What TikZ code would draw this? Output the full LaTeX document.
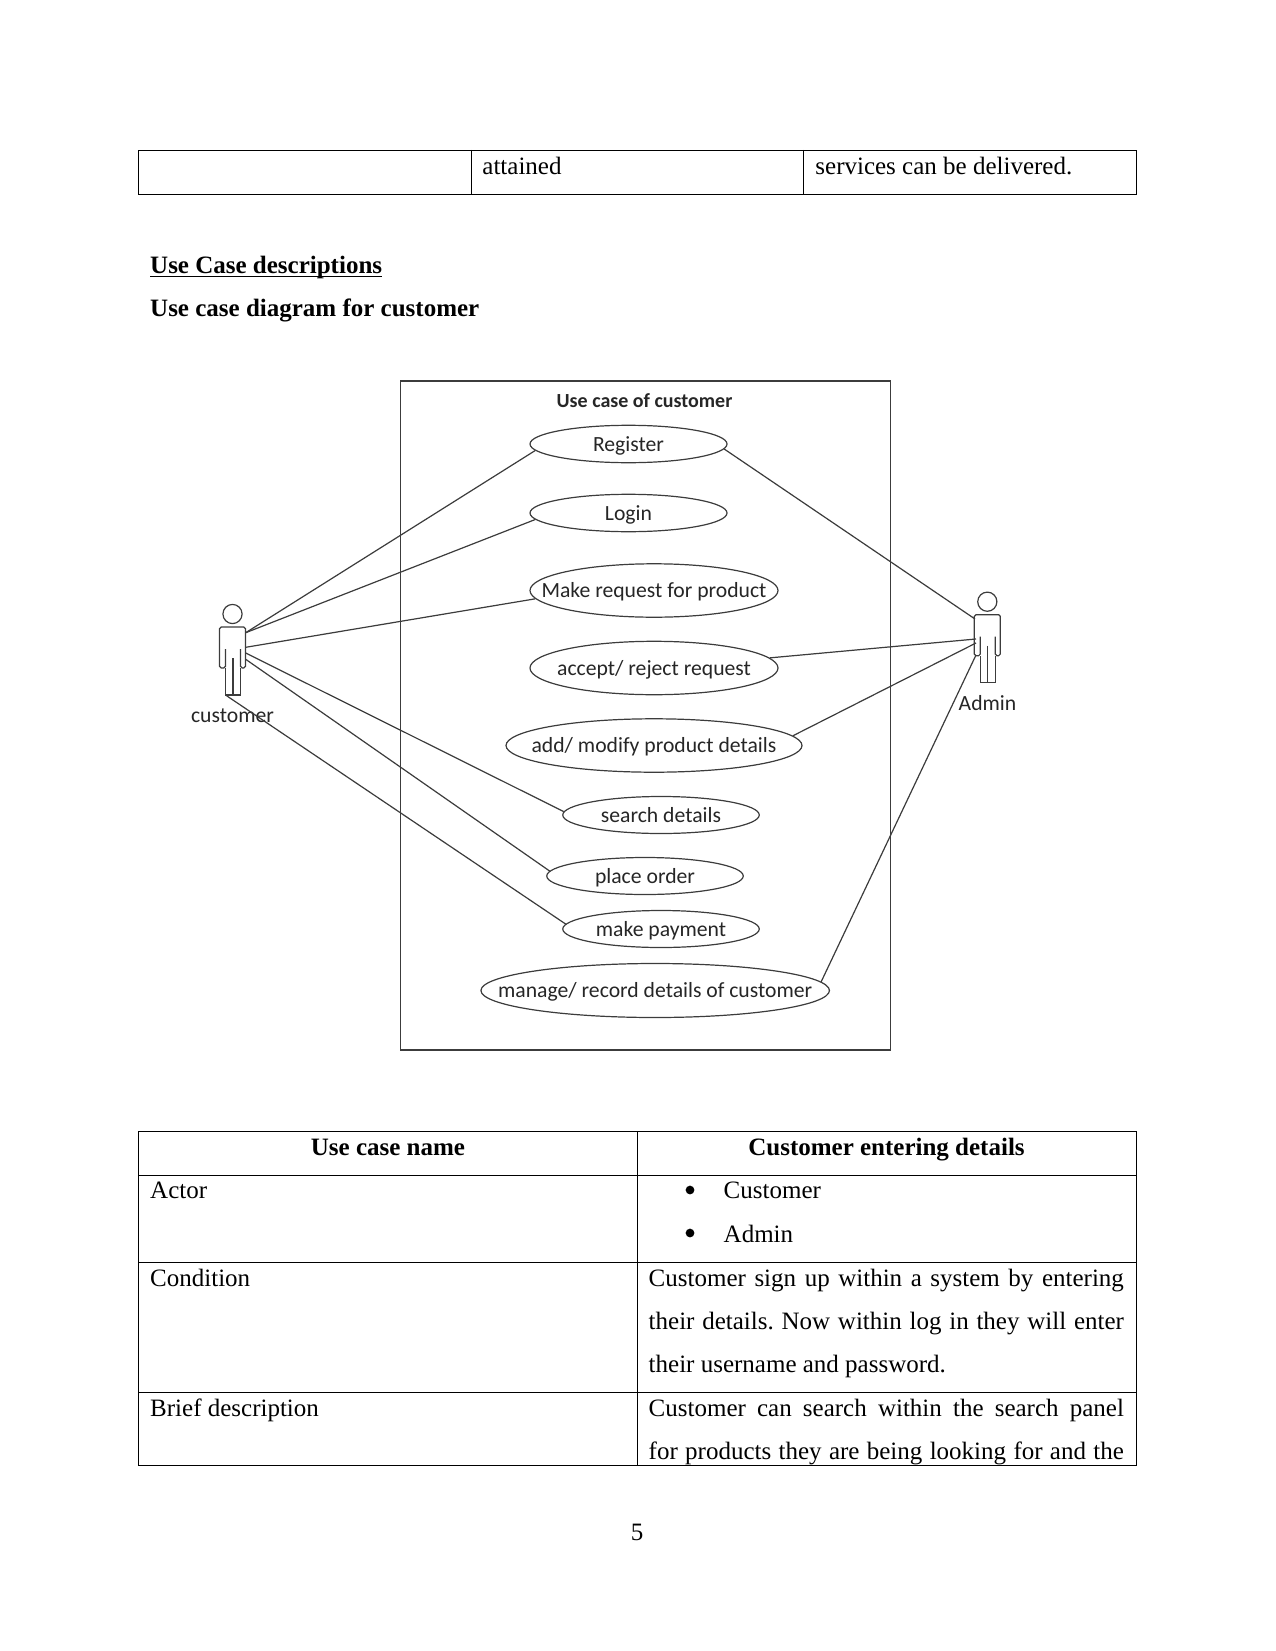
\documentclass[tikz,border=0pt]{standalone}
\usepackage{fontspec}
\setmainfont{Liberation Serif}
\newfontfamily\ucfont{Carlito}
\usetikzlibrary{shapes.geometric}
\definecolor{ucline}{HTML}{3C3C3C}
\newcommand{\jline}[1]{\makebox[228.1pt][s]{\frenchspacing #1}}
\tikzset{
	txt/.style={anchor=base west,inner sep=0pt,font=\fontsize{12}{14}\selectfont},
	ctxt/.style={anchor=base,inner sep=0pt,font=\fontsize{12}{14}\selectfont},
	btxt/.style={anchor=base,inner sep=0pt,font=\fontsize{12}{14}\selectfont\bfseries},
	bul/.style={circle,inner sep=0pt,minimum size=4.2pt,fill},
	tbl/.style={line width=.36pt},
	ucase/.style 2 args={ellipse,draw=ucline,line width=.58pt,inner sep=0pt,minimum width=#1*.48pt,minimum height=#2*.48pt},
	uclabel/.style={inner sep=0pt,text height=9pt,text depth=2pt,text=black!85,font=\fontsize{10.4}{12}\ucfont},
	conn/.style={draw=ucline,line width=.58pt},
	pics/actor/.style={code={
		\node [circle,draw=ucline,line width=.58pt,inner sep=0pt,minimum size=9.2pt] (#1head) at (0,0) {};
		\draw [ucline,line width=.58pt,rounded corners=.8pt] (-7,35) -- (-7,54) -- (-13,54) -- (-13,13) -- (13,13) -- (13,54) -- (8,54) -- (8,35);
		\draw [ucline,line width=.58pt] (-7,54) -- (-7,81) -- (8,81) -- (8,54);
		\draw [ucline,line width=.58pt] (0.5,44) -- (0.5,81);
		\coordinate (#1foot) at (-7,81);
	}}
}
\begin{document}
\begin{tikzpicture}[x=.48pt,y=-.48pt]
	\useasboundingbox (0,0) rectangle (1275,1651);

	\draw [tbl] (138.6,150) rectangle (1136,194);
	\draw [tbl] (471,150) -- (471,194);
	\draw [tbl] (803.5,150) -- (803.5,194);
	\node [txt] (attained) at (482,175) {attained};
	\node [txt] (services) at (815,175) {services can be delivered.};

	\node [txt,font=\fontsize{12}{14}\selectfont\bfseries] (heading) at (149.8,273) {\underline{\smash{Use Case descriptions}}};
	\node [txt,font=\fontsize{12}{14}\selectfont\bfseries] (subheading) at (149.8,316) {Use case diagram for customer};

	\node [draw=ucline,line width=.58pt,inner sep=0pt,minimum width=490*.48pt,minimum height=669*.48pt] (system) at (645.3,715.5) {};
	\node [uclabel,font=\fontsize{9.6}{11}\ucfont\bfseries] (title) at (644.5,400.4) {Use case of customer};

	\node [ucase={197}{37.4}] (register) at (628.5,444) {};
	\node [uclabel] at (register) {Register};
	\node [ucase={197}{37.4}] (login) at (628.5,513) {};
	\node [uclabel] at (login) {Login};
	\node [ucase={248}{53.4}] (request) at (654,590.5) {};
	\node [uclabel] at (request) {Make request for product};
	\node [ucase={248}{53.4}] (accept) at (654,668) {};
	\node [uclabel] at (accept) {accept/ reject request};
	\node [ucase={296}{53.4}] (modify) at (654,745.5) {};
	\node [uclabel] at (modify) {add/ modify product details};
	\node [ucase={196.5}{37}] (search) at (661,815) {};
	\node [uclabel] at (search) {search details};
	\node [ucase={196.5}{37}] (order) at (645,876) {};
	\node [uclabel] at (order) {place order};
	\node [ucase={196.5}{37}] (payment) at (661,929) {};
	\node [uclabel] at (payment) {make payment};
	\node [ucase={348.5}{54}] (manage) at (655.2,990.5) {};
	\node [uclabel] at (manage) {manage/ record details of customer};

	\pic at (232.5,614) {actor=cus};
	\pic at (987.3,601.7) {actor=adm};
	\node [uclabel] (customer) at (232.5,715.5) {customer};
	\node [uclabel] (admin) at (987.5,703.5) {Admin};

	\coordinate (cusa) at (245.7,632.7);
	\coordinate (cusb) at (245.7,647.3);
	\coordinate (cusc) at (245.7,653);
	\coordinate (cusd) at (245.7,659.3);
	\coordinate (adma) at (975,619);
	\coordinate (admb) at (976,639);
	\coordinate (admc) at (976,643);
	\coordinate (admd) at (976,655);

	\draw [conn] (cusa) -- (register.184.5);
	\draw [conn] (cusa) -- (login.184.6);
	\draw [conn] (cusb) -- (request.184.7);
	\draw [conn] (cusc) -- (search.178);
	\draw [conn] (cusd) -- (order.177);
	\draw [conn] (cusfoot) -- (payment.177);
	\draw [conn] (adma) -- (register.-3.7);
	\draw [conn] (admb) -- (accept.5);
	\draw [conn] (admc) -- (modify.4.4);
	\draw [conn] (admd) -- (manage.3.4);

	\draw [tbl] (138.6,1131) rectangle (1136,1465);
	\draw [tbl] (637,1131) -- (637,1465);
	\draw [tbl] (138.6,1175) -- (1136,1175);
	\draw [tbl] (138.6,1262) -- (1136,1262);
	\draw [tbl] (138.6,1392) -- (1136,1392);

	\node [btxt] (ucname) at (388,1155) {Use case name};
	\node [btxt] (ucvalue) at (886.5,1155) {Customer entering details};
	\node [txt] (actor) at (149.8,1198) {Actor};
	\node [bul] (bula) at (690,1190) {};
	\node [txt] (actora) at (723.3,1198) {Customer};
	\node [bul] (bulb) at (690,1233) {};
	\node [txt] (actorb) at (723.3,1242.3) {Admin};
	\node [txt] (condition) at (149.8,1286.5) {Condition};
	\node [txt] (conda) at (648.3,1286.5) {\jline{Customer sign up within a system by entering}};
	\node [txt] (condb) at (648.3,1329) {\jline{their details. Now within log in they will enter}};
	\node [txt] (condc) at (648.3,1372.4) {their username and password.};
	\node [txt] (brief) at (149.8,1416.5) {Brief description};
	\node [txt] (briefa) at (648.3,1416.5) {\jline{Customer can search within the search panel}};
	\node [txt] (briefb) at (648.3,1459.6) {\jline{for products they are being looking for and the}};
	\node [ctxt] (pagenum) at (637,1540) {5};
\end{tikzpicture}
\end{document}
